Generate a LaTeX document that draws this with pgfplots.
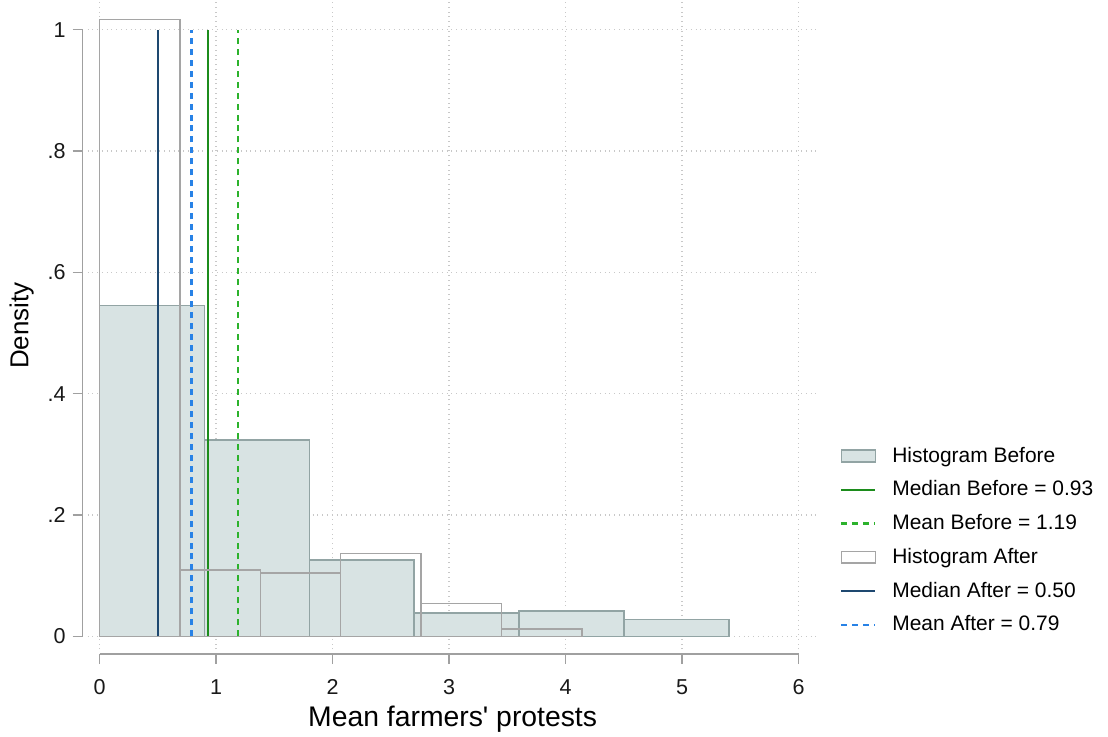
\documentclass[border=0pt]{standalone}
\usepackage{pgfplots}
\pgfplotsset{compat=1.18}
\usepackage{fontspec}
\setmainfont{Liberation Sans}

\definecolor{beforeFill}{RGB}{216,227,227}
\definecolor{beforeDraw}{RGB}{146,164,164}
\definecolor{afterDraw}{RGB}{165,165,165}
\definecolor{medBefore}{RGB}{28,140,28}
\definecolor{meanBefore}{RGB}{44,178,44}
\definecolor{medAfter}{RGB}{30,72,112}
\definecolor{meanAfter}{RGB}{40,130,230}
\definecolor{axisgray}{RGB}{160,160,160}
\definecolor{gridgray}{RGB}{200,200,200}

\pgfplotsset{
  lineleg/.style={legend image code/.code={\draw[##1] (0pt,0pt) -- (17pt,0pt);}},
  boxleg/.style={legend image code/.code={\draw[##1] (0pt,-3pt) rectangle (17pt,3pt);}},
}

\begin{document}
\begin{tikzpicture}
\begin{axis}[
  scale only axis,
  width=366pt, height=324.5pt,
  xmin=-0.103, xmax=6.164,
  ymin=-0.0214, ymax=1.046,
  clip=false,
  axis lines*=left,
  axis x line shift=2.5pt,
  axis y line shift=2.5pt,
  axis line style={draw=none},
  tick align=outside,
  major tick length=5pt,
  tick style={axisgray, line width=0.8pt},
  xtick={0,1,2,3,4,5,6},
  ytick={0,0.2,0.4,0.6,0.8,1},
  yticklabels={0,.2,.4,.6,.8,1},
  /pgf/number format/assume math mode=true,
  ticklabel style={font=\fontsize{10.8}{13}\selectfont, text=black!90},
  x tick label style={yshift=-4pt},
  grid=major,
  major grid style={gridgray, dotted, line width=0.8pt},
  xlabel={Mean farmers\textquotesingle\ protests},
  ylabel={Density},
  xlabel style={font=\fontsize{14.2}{16}\selectfont, inner sep=1pt, yshift=-1pt},
  ylabel style={font=\fontsize{13}{15}\selectfont},
  legend cell align=left,
  legend style={
    at={(1.022,0.011)}, anchor=south west,
    draw=none, fill=none,
    font=\fontsize{10.5}{12}\selectfont,
    row sep=3.8pt,
    /tikz/every odd column/.append style={column sep=6pt},
  },
]
% histogram of the pre-period (bin width 0.9)
\addplot[ybar interval, fill=beforeFill, draw=beforeDraw, line width=0.75pt, boxleg]
  coordinates {(0,0.545) (0.9,0.3235) (1.8,0.1255) (2.7,0.0383) (3.6,0.0416) (4.5,0.028) (5.4,0.028)};
\addlegendentry{Histogram Before}
\addplot[medBefore, line width=1.1pt, lineleg]
  coordinates {(0.93,0) (0.93,1)};
\addlegendentry{Median Before = 0.93}
\addplot[meanBefore, line width=1.1pt, dash pattern=on 3pt off 2.5pt, lineleg]
  coordinates {(1.19,0) (1.19,1)};
\addlegendentry{Mean Before = 1.19}
% histogram of the post-period (bin width 0.69)
\addplot[ybar interval, fill=none, draw=afterDraw, line width=0.75pt, boxleg]
  coordinates {(0,1.017) (0.69,0.109) (1.38,0.104) (2.07,0.1365) (2.76,0.054) (3.45,0.012) (4.14,0.012)};
\addlegendentry{Histogram After}
\addplot[medAfter, line width=1.1pt, lineleg]
  coordinates {(0.5,0) (0.5,1)};
\addlegendentry{Median After = 0.50}
\addplot[meanAfter, line width=1.1pt, dash pattern=on 3pt off 2.5pt, lineleg]
  coordinates {(0.79,0) (0.79,1)};
\addlegendentry{Mean After = 0.79}
% detached axis lines spanning the tick range only
\draw[axisgray, line width=0.8pt] ([yshift=-2.5pt]axis cs:0,-0.0214) -- ([yshift=-2.5pt]axis cs:6,-0.0214);
\draw[axisgray, line width=0.8pt] ([xshift=-2.5pt]axis cs:-0.103,0) -- ([xshift=-2.5pt]axis cs:-0.103,1);
\end{axis}
% white margin around the figure
\path (current bounding box.south west) ++(-1.5pt,-1.4pt)
      (current bounding box.north east) ++(2.4pt,0.5pt);
\end{tikzpicture}
\end{document}
